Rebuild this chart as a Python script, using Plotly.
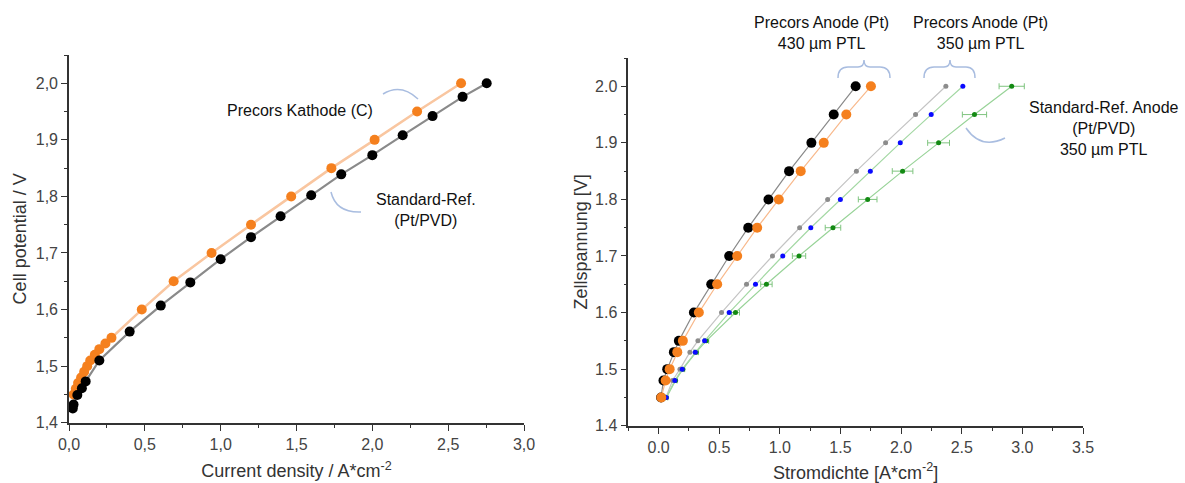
import plotly.graph_objects as go

W, H = 1185, 483

# ---------------- Left chart data (Cell potential vs current density) ----------------
left_orange_x = [0.03, 0.045, 0.06, 0.08, 0.10, 0.12, 0.14, 0.17, 0.20, 0.24, 0.28,
                 0.48, 0.69, 0.94, 1.20, 1.465, 1.73, 2.015, 2.295, 2.585]
left_orange_y = [1.45, 1.46, 1.47, 1.48, 1.49, 1.50, 1.51, 1.52, 1.53, 1.54, 1.55,
                 1.60, 1.65, 1.70, 1.75, 1.80, 1.85, 1.90, 1.95, 2.00]
left_black_x = [0.025, 0.03, 0.055, 0.085, 0.11, 0.20, 0.40, 0.605, 0.80, 1.00, 1.20,
                1.395, 1.597, 1.795, 2.0, 2.2, 2.397, 2.595, 2.754]
left_black_y = [1.425, 1.432, 1.449, 1.461, 1.473, 1.51, 1.561, 1.607, 1.648, 1.689, 1.728,
                1.765, 1.802, 1.839, 1.873, 1.908, 1.942, 1.976, 2.0]

left_xticks = [0, 0.5, 1.0, 1.5, 2.0, 2.5, 3.0]
left_xticktext = ["0,0", "0,5", "1,0", "1,5", "2,0", "2,5", "3,0"]
left_yticks = [1.4, 1.5, 1.6, 1.7, 1.8, 1.9, 2.0]
left_yticktext = ["1,4", "1,5", "1,6", "1,7", "1,8", "1,9", "2,0"]

# ---------------- Right chart data ----------------
right_V = [1.45, 1.48, 1.50, 1.53, 1.55, 1.60, 1.65, 1.70, 1.75, 1.80, 1.85, 1.90, 1.95, 2.00]
black_430 = [0.02, 0.04, 0.071, 0.126, 0.167, 0.291, 0.434, 0.582, 0.739, 0.906, 1.076, 1.26, 1.444, 1.625]
orange_430 = [0.022, 0.058, 0.091, 0.154, 0.20, 0.332, 0.483, 0.648, 0.813, 0.991, 1.172, 1.362, 1.548, 1.751]
grey_350 = [0.06, 0.115, 0.176, 0.258, 0.324, 0.519, 0.725, 0.939, 1.163, 1.394, 1.631, 1.872, 2.119, 2.369]
blue_350 = [0.063, 0.134, 0.195, 0.302, 0.379, 0.582, 0.799, 1.024, 1.255, 1.499, 1.746, 1.993, 2.248, 2.509]
green_ref = [0.065, 0.14, 0.2, 0.31, 0.393, 0.634, 0.889, 1.158, 1.438, 1.724, 2.012, 2.309, 2.605, 2.912]
green_err = [0.01, 0.012, 0.015, 0.018, 0.02, 0.033, 0.047, 0.055, 0.064, 0.077, 0.085, 0.09, 0.10, 0.104]

FONT = "Liberation Sans, Arial, sans-serif"

fig = go.Figure()

# Left traces
fig.add_trace(go.Scatter(x=left_orange_x, y=left_orange_y, mode="lines+markers",
                         line=dict(color="#f9c6a0", width=2.5),
                         marker=dict(color="#f5801e", size=10),
                         xaxis="x", yaxis="y", showlegend=False))
fig.add_trace(go.Scatter(x=left_black_x, y=left_black_y, mode="lines+markers",
                         line=dict(color="#8a8a8a", width=2.2),
                         marker=dict(color="#000000", size=10),
                         xaxis="x", yaxis="y", showlegend=False))

# Right traces
fig.add_trace(go.Scatter(x=green_ref, y=right_V, mode="lines+markers",
                         line=dict(color="#98d398", width=1.2),
                         marker=dict(color="#138a13", size=5),
                         error_x=dict(type="data", array=green_err, color="#7fc47f", thickness=1, width=3),
                         xaxis="x2", yaxis="y2", showlegend=False))
fig.add_trace(go.Scatter(x=grey_350, y=right_V, mode="lines+markers",
                         line=dict(color="#c4c4c4", width=1.2),
                         marker=dict(color="#8c8c8c", size=5),
                         xaxis="x2", yaxis="y2", showlegend=False))
fig.add_trace(go.Scatter(x=blue_350, y=right_V, mode="lines+markers",
                         line=dict(color="#a4d8a4", width=1.2),
                         marker=dict(color="#0a0aff", size=5),
                         xaxis="x2", yaxis="y2", showlegend=False))
fig.add_trace(go.Scatter(x=black_430, y=right_V, mode="lines+markers",
                         line=dict(color="#8a8a8a", width=1.2),
                         marker=dict(color="#000000", size=10),
                         xaxis="x2", yaxis="y2", showlegend=False))
fig.add_trace(go.Scatter(x=orange_430, y=right_V, mode="lines+markers",
                         line=dict(color="#f8b98c", width=1.2),
                         marker=dict(color="#f5801e", size=10),
                         xaxis="x2", yaxis="y2", showlegend=False))

axis_common = dict(showline=True, linecolor="#333333", linewidth=1.6, ticks="outside",
                   ticklen=6, tickwidth=1.4, tickcolor="#333333", showgrid=False, zeroline=False,
                   automargin=False,
                   tickfont=dict(family=FONT, size=16, color="#444444"))
title_font = dict(family=FONT, size=18, color="#333333")

fig.update_layout(
    width=W, height=H, margin=dict(l=0, r=0, t=0, b=0),
    paper_bgcolor="white", plot_bgcolor="white",
    font=dict(family=FONT, color="#333333"),
    xaxis=dict(domain=[69 / W, 524 / W], range=[0, 3.0], anchor="y",
               tickmode="array", tickvals=left_xticks, ticktext=left_xticktext,
               minor=dict(dtick=0.25, ticklen=3, tickcolor="#333333", ticks="outside"),
               title=dict(text="Current density / A*cm<sup>-2</sup>", standoff=13, font=title_font),
               **axis_common),
    yaxis=dict(domain=[1 - 422.7 / H, 1 - 55 / H], range=[1.4, 2.05], anchor="x",
               tickmode="array", tickvals=left_yticks, ticktext=left_yticktext,
               minor=dict(dtick=0.05, ticklen=3, tickcolor="#333333", ticks="outside"),
               title=dict(text="Cell potential / V", standoff=4, font=title_font),
               **axis_common),
    xaxis2=dict(domain=[628.3 / W, 1083 / W], range=[-0.25, 3.5], anchor="y2",
                dtick=0.5, tickformat=".1f", tick0=0,
                minor=dict(dtick=0.25, ticklen=3, tickcolor="#333333", ticks="outside"),
                title=dict(text="Stromdichte [A*cm<sup>-2</sup>]", standoff=16, font=title_font),
                **axis_common),
    yaxis2=dict(domain=[1 - 425.7 / H, 1 - 58 / H], range=[1.4, 2.05], anchor="x2",
                dtick=0.1, tickformat=".1f",
                minor=dict(dtick=0.05, ticklen=3, tickcolor="#333333", ticks="outside"),
                title=dict(text="Zellspannung [V]", standoff=3, font=title_font),
                **axis_common),
)


def px(x, y):
    return f"{x / W:.5f},{1 - y / H:.5f}"


def path(cmds):
    out = []
    for c in cmds:
        if isinstance(c, str):
            out.append(c)
        else:
            out.append(px(*c))
    return " ".join(out)


deco = dict(color="#a9bde0", width=1.5)
braces = [
    path(["M", (838, 78), "Q", (838, 67), (848, 67), "L", (858, 67), "Q", (864, 67), (864, 60),
          "Q", (864, 67), (870, 67), "L", (880, 67), "Q", (890, 67), (890, 78)]),
    path(["M", (924, 78), "Q", (924, 67), (934, 67), "L", (944, 67), "Q", (950, 67), (950, 60),
          "Q", (950, 67), (956, 67), "L", (966, 67), "Q", (975, 67), (975, 78)]),
    path(["M", (383, 94), "Q", (401, 83), (418, 99)]),
    path(["M", (331, 192), "Q", (336, 213), (361, 212)]),
    path(["M", (966, 128), "Q", (981, 150), (1005, 138)]),
]
for p in braces:
    fig.add_shape(type="path", path=p, xref="paper", yref="paper", line=deco)

texts = [
    ("Precors Kathode (C)", 300, 110, 16),
    ("Standard-Ref.<br>(Pt/PVD)", 426, 210, 16),
    ("Precors Anode (Pt)<br>430 µm PTL", 821, 33, 16),
    ("Precors Anode (Pt)<br>350 µm PTL", 980, 33, 16),
    ("Standard-Ref. Anode<br>(Pt/PVD)<br>350 µm PTL", 1104, 128, 16),
]
for t, x, y, s in texts:
    fig.add_annotation(text=t, x=x / W, y=1 - y / H, xref="paper", yref="paper",
                       showarrow=False, xanchor="center", yanchor="middle", align="center",
                       font=dict(family=FONT, size=s, color="#111111"))

fig.write_html("out.html", config={"displayModeBar": False},
               post_script="document.body.style.margin='0';")
